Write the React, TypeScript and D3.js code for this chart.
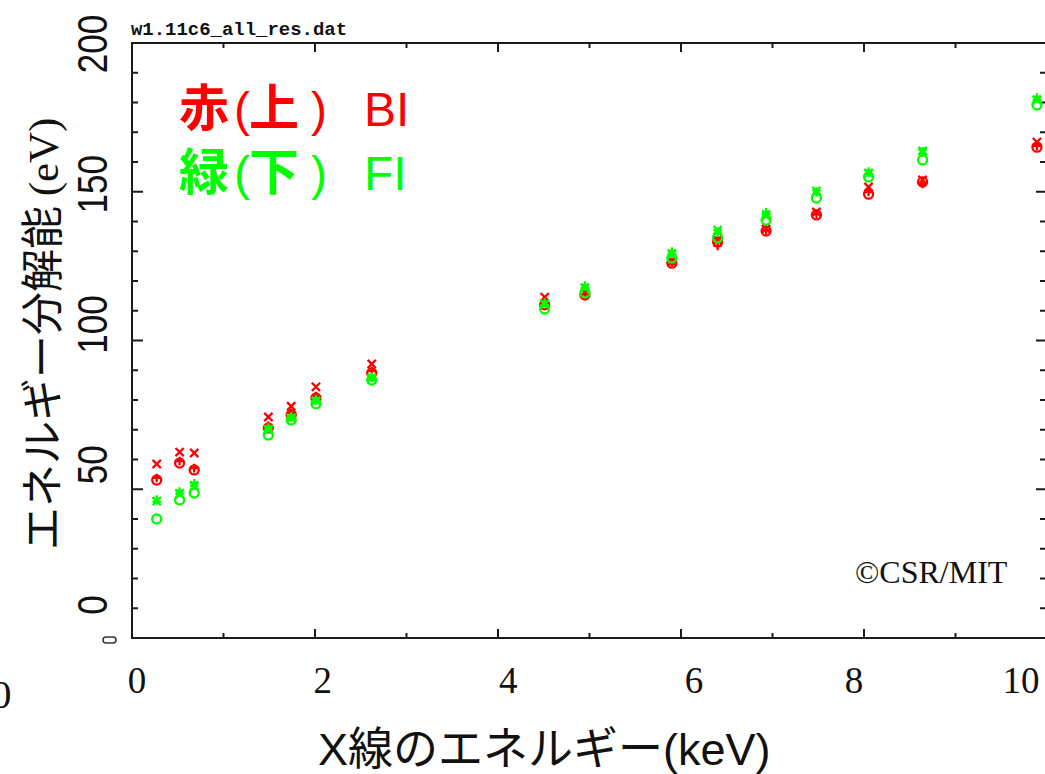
import { useEffect, useRef } from 'react';
import * as d3 from 'd3';

const W = 1045, H = 774;
const PL = 132, PR = 1047, PT = 43, PB = 638;
const RED = '#ff0000', GREEN = '#00ff00', AXIS = '#1a1a1a';

// X-ray line energies (keV)
const energies = [0.27, 0.52, 0.68, 1.49, 1.74, 2.01, 2.62, 4.51, 4.95, 5.90, 6.40, 6.93, 7.48, 8.05, 8.64, 9.89];

// BI (red) resolution, eV
const biCross = [58.5, 62.5, 62.2, 74.3, 77.9, 84.4, 92.1, 114.6, 116.1, 126.4, 133.8, 137.5, 143.2, 151.6, 154.0, 166.7];
const biCircle = [53.1, 58.8, 56.5, 70.6, 75.0, 80.7, 89.1, 112.0, 115.3, 126.0, 133.1, 136.8, 142.2, 149.2, 153.3, 165.0];
const biPlus = [53.8, 59.5, 57.1, 71.3, 75.6, 81.3, 89.7, 112.6, 115.6, 126.4, 131.8, 137.1, 142.5, 149.9, 152.6, 165.4];

// FI (green) resolution, eV
const fiStar = [46.4, 49.1, 51.8, 70.6, 74.3, 80.0, 87.7, 112.6, 118.3, 129.7, 136.5, 142.9, 149.9, 156.6, 163.4, 181.5];
const fiCross = [46.0, 48.4, 51.1, 70.0, 74.0, 79.7, 87.4, 112.3, 117.6, 129.0, 137.1, 141.8, 150.3, 156.3, 163.7, 180.8];
const fiCircle = [40.0, 46.4, 48.7, 68.2, 73.3, 78.7, 86.7, 110.6, 116.0, 127.7, 134.5, 140.5, 147.9, 155.0, 160.7, 179.2];

const xMajor = [0, 2, 4, 6, 8, 10];
const yMajor = [0, 50, 100, 150, 200];

const timesSym = (d3 as any).symbolTimes || {
  draw(ctx: any, size: number) {
    const r = Math.sqrt(size) * 0.6;
    ctx.moveTo(-r, -r); ctx.lineTo(r, r);
    ctx.moveTo(-r, r); ctx.lineTo(r, -r);
  },
};
const plusSym = (d3 as any).symbolPlus || d3.symbolCross;
const starSym = (d3 as any).symbolAsterisk || d3.symbolStar;

export default function App() {
  const svgRef = useRef<SVGSVGElement>(null);

  useEffect(() => {
    const svg = d3.select(svgRef.current);
    svg.selectAll('*').remove();

    const x = d3.scaleLinear().domain([0, 10]).range([PL, PR]);
    const y = d3.scaleLinear().domain([0, 200]).range([PB, PT]);
    // the tick numbers were pasted over the plot on their own grid
    const xLab = d3.scaleLinear().domain([0, 6, 8, 10]).range([137, 694, 854, 1021]);
    const yLab = d3.scaleLinear().domain([0, 200]).range([605, 44]);

    svg.append('rect').attr('width', W).attr('height', H).attr('fill', '#fff');

    // title
    svg.append('text')
      .attr('x', 131).attr('y', 35)
      .attr('font-family', '"Liberation Mono", monospace')
      .attr('font-weight', 700).attr('font-size', 18)
      .attr('textLength', 216).attr('lengthAdjust', 'spacingAndGlyphs')
      .attr('fill', '#111')
      .text('w1.11c6_all_res.dat');

    // frame
    const frame = svg.append('g').attr('stroke', AXIS).attr('stroke-width', 2).attr('fill', 'none');
    frame.append('path').attr('d', `M${PL},${PT}H${PR}V${PB}H${PL}Z`);

    const xt = d3.range(0, 11, 1);
    const yt = d3.range(0, 201, 10);
    const ticks = svg.append('g').attr('stroke', AXIS).attr('stroke-width', 2);
    xt.forEach((v) => {
      const major = v % 2 === 0;
      ticks.append('line').attr('x1', x(v)).attr('x2', x(v))
        .attr('y1', PB).attr('y2', PB - (major ? 9 : 5));
      ticks.append('line').attr('x1', x(v)).attr('x2', x(v))
        .attr('y1', PT).attr('y2', PT + (major ? 9 : 5));
    });
    yt.forEach((v) => {
      const major = v % 50 === 0;
      ticks.append('line').attr('y1', y(v)).attr('y2', y(v))
        .attr('x1', PL).attr('x2', PL + (major ? 11 : 6));
      ticks.append('line').attr('y1', y(v)).attr('y2', y(v))
        .attr('x1', PR).attr('x2', PR - (major ? 11 : 7));
    });

    // markers
    const series = [
      { values: biCircle, color: RED, type: d3.symbolCircle, size: 64 },
      { values: biPlus, color: RED, type: plusSym, size: 26 },
      { values: biCross, color: RED, type: timesSym, size: 46 },
      { values: fiCircle, color: GREEN, type: d3.symbolCircle, size: 64 },
      { values: fiCross, color: GREEN, type: timesSym, size: 46 },
      { values: fiStar, color: GREEN, type: starSym, size: 64 },
    ];
    series.forEach((s) => {
      const sym = d3.symbol().type(s.type as any).size(s.size);
      svg.append('g')
        .selectAll('path')
        .data(s.values)
        .join('path')
        .attr('transform', (d, i) => `translate(${x(energies[i])},${y(d)})`)
        .attr('d', sym() as string)
        .attr('fill', 'none')
        .attr('stroke', s.color)
        .attr('stroke-width', 2.3);
    });

    // x tick labels
    svg.append('g')
      .selectAll('text')
      .data(xMajor)
      .join('text')
      .attr('x', (d) => xLab(d))
      .attr('y', 693)
      .attr('text-anchor', 'middle')
      .attr('font-family', '"Liberation Serif", serif')
      .attr('font-size', 37)
      .attr('fill', '#111')
      .text((d) => d);

    // y tick labels (rotated)
    svg.append('g')
      .selectAll('text')
      .data(yMajor)
      .join('text')
      .attr('transform', (d) => `translate(107,${yLab(d)}) rotate(-90)`)
      .attr('text-anchor', 'middle')
      .attr('font-family', '"Liberation Sans", Arial, sans-serif')
      .attr('font-size', 42)
      .attr('textLength', (d) => String(d).length * 19.5)
      .attr('lengthAdjust', 'spacingAndGlyphs')
      .attr('fill', '#111')
      .text((d) => d);

    // stray bits of the pasted label layer
    svg.append('text')
      .attr('x', -9).attr('y', 708)
      .attr('font-family', '"Liberation Serif", serif')
      .attr('font-size', 41).attr('fill', '#111')
      .text('0');
    svg.append('rect')
      .attr('x', 103).attr('y', 637).attr('width', 13).attr('height', 6).attr('rx', 3)
      .attr('fill', 'none').attr('stroke', '#333').attr('stroke-width', 1.5);

    // axis titles
    svg.append('text')
      .attr('x', 318).attr('y', 765)
      .attr('font-family', '"Liberation Sans", "Noto Sans CJK JP", sans-serif')
      .attr('font-size', 45)
      .attr('fill', '#111')
      .text('X線のエネルギー(keV)');

    const yTitle = svg.append('text')
      .attr('transform', 'translate(58,550) rotate(-90)')
      .attr('font-family', '"Noto Sans CJK JP", sans-serif')
      .attr('font-size', 43)
      .attr('fill', '#111');
    yTitle.append('tspan').text('エネルギー分解能 ');
    yTitle.append('tspan').attr('font-family', '"Liberation Serif", serif').text('(eV)');

    // legend
    const legend = [
      { head: '赤', mid: '上', tail: 'BI', color: RED, base: 126 },
      { head: '緑', mid: '下', tail: 'FI', color: GREEN, base: 190 },
    ];
    legend.forEach((l) => {
      const t = svg.append('text')
        .attr('y', l.base)
        .attr('fill', l.color)
        .attr('font-family', '"Liberation Sans", "Noto Sans CJK JP", sans-serif')
        .attr('font-size', 48);
      t.append('tspan').attr('x', 179).attr('font-family', '"Noto Sans CJK JP"').attr('font-weight', 700).attr('font-size', 50).text(l.head);
      t.append('tspan').attr('x', 234).text('(');
      t.append('tspan').attr('x', 249).attr('font-family', '"Noto Sans CJK JP"').attr('font-weight', 700).attr('font-size', 50).text(l.mid);
      t.append('tspan').attr('x', 311).text(')');
      t.append('tspan').attr('x', 364).text(l.tail);
    });

    svg.append('text')
      .attr('x', 855).attr('y', 583)
      .attr('font-family', '"Liberation Serif", serif')
      .attr('font-size', 32)
      .attr('fill', '#111')
      .text('©CSR/MIT');
  }, []);

  return (
    <svg
      ref={svgRef}
      width={W}
      height={H}
      viewBox={`0 0 ${W} ${H}`}
      style={{ position: 'absolute', left: 0, top: 0, display: 'block' }}
    />
  );
}
